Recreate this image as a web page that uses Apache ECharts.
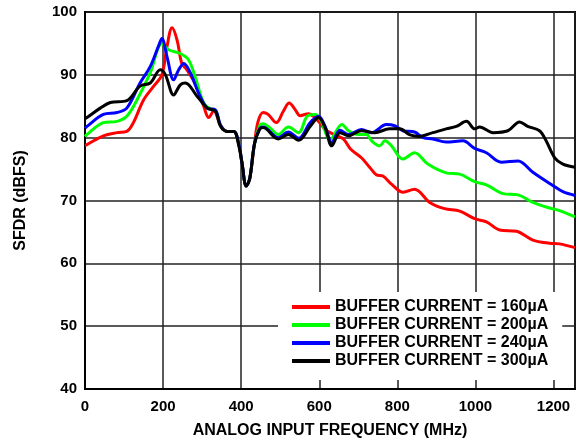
<!DOCTYPE html>
<html>
<head>
<meta charset="utf-8">
<script src="https://cdn.jsdelivr.net/npm/echarts@6/dist/echarts.min.js"></script>
<style>html,body{margin:0;padding:0;background:#fff}#c{width:588px;height:444px}</style>
</head>
<body>
<div id="c"></div>
<script>
// Tick/axis values
const xTicks = [0, 200, 400, 600, 800, 1000, 1200];
const yTicks = [40, 50, 60, 70, 80, 90, 100];
const seriesNames = ['BUFFER CURRENT = 160µA', 'BUFFER CURRENT = 200µA', 'BUFFER CURRENT = 240µA', 'BUFFER CURRENT = 300µA'];

// 160 µA (red)
const freq160 = [0,5,47,82,107,124,150,176,197,210,223,236,248,261,282,304,317,330,347,364,381,394,402,413,422,434,443,456,469,490,508,523,538,551,572,589,601,615,628,646,663,680,708,729,746,763,785,815,844,883,921,960,998,1028,1062,1105,1147,1190,1215,1255];
const sfdr160 = [78.8,78.9,80.3,80.8,81.0,82.4,86.0,88.2,90.0,94.5,97.5,95.5,91.8,90.8,88.6,85.0,83.2,84.3,82.0,81.0,81.0,79.0,76.0,72.3,73.5,79.0,82.5,84.0,83.7,82.4,84.2,85.5,84.5,83.5,83.8,83.2,82.4,81.3,80.8,80.3,79.7,78.2,76.8,75.3,74.1,73.9,72.6,71.3,71.8,69.7,68.7,68.3,67.1,66.6,65.3,65.1,63.7,63.2,63.1,62.5];

// 200 µA (green)
const freq200 = [0,5,47,82,107,133,167,197,214,244,265,282,304,321,334,347,364,381,394,402,413,422,434,447,456,473,495,521,547,569,590,603,628,658,675,700,721,734,755,768,785,814,844,878,925,960,998,1028,1070,1109,1147,1190,1215,1255];
const sfdr200 = [80.2,80.5,82.4,82.6,83.4,86.0,90.3,95.0,94.0,93.4,92.4,89.7,85.5,84.6,84.4,82.0,81.0,81.0,79.0,76.0,72.3,73.5,79.0,81.8,82.2,81.6,80.5,81.7,80.8,83.4,83.7,82.9,79.7,82.1,81.1,80.5,80.5,79.5,78.7,79.5,78.7,76.6,77.6,75.8,74.4,74.2,73.0,72.5,71.1,70.9,69.7,68.8,68.4,67.4];

// 240 µA (blue)
const freq240 = [0,5,47,82,107,141,167,189,197,210,227,240,253,270,291,313,334,347,364,381,394,402,413,422,434,447,456,495,521,547,577,598,615,632,653,675,708,734,772,793,814,844,866,891,925,968,998,1028,1066,1109,1147,1198,1224,1255];
const sfdr240 = [81.5,81.8,83.7,84.0,84.7,88.7,91.3,94.7,95.8,92.9,89.2,90.8,91.8,90.3,87.1,84.7,84.4,82.0,81.0,81.0,79.0,76.0,72.3,73.5,79.0,81.4,81.7,80.0,80.9,79.9,82.4,83.4,81.8,79.2,81.2,80.5,81.3,80.8,82.1,81.9,81.1,80.9,80.0,79.8,79.3,79.5,78.3,77.6,76.1,76.3,74.5,72.4,71.4,70.8];

// 300 µA (black)
const freq300 = [0,5,39,65,107,141,167,193,206,227,244,257,287,313,334,347,364,381,394,402,413,422,434,447,456,495,521,547,577,598,615,632,653,675,708,742,780,806,831,856,891,925,951,977,998,1011,1045,1083,1113,1134,1164,1181,1203,1224,1255];
const sfdr300 = [83.0,83.2,84.7,85.6,85.9,88.2,88.7,90.8,90.0,86.8,88.4,88.7,86.6,84.7,84.2,81.8,81.0,81.0,78.7,76.0,72.3,73.5,79.0,81.3,81.6,79.8,80.5,79.6,81.8,83.2,81.6,78.7,80.8,80.3,81.1,80.8,81.4,81.4,80.5,80.2,80.8,81.4,81.8,82.6,81.4,81.7,80.8,81.1,82.5,81.8,81.1,79.5,76.8,75.8,75.3];

const colors = ['#ff0000', '#00ff00', '#0000ff', '#000000'];
const freqs = [freq160, freq200, freq240, freq300];
const sfdrs = [sfdr160, sfdr200, sfdr240, sfdr300];

const FONT = '"Liberation Sans", Arial, sans-serif';
const chart = echarts.init(document.getElementById('c'), null, {renderer: 'canvas'});

const series = seriesNames.map((name, i) => ({
  name: name,
  type: 'line',
  smooth: 0.35,
  symbol: 'none',
  color: colors[i],
  lineStyle: {width: 3, color: colors[i]},
  data: freqs[i].map((f, j) => [f, sfdrs[i][j]]),
  z: 2 + i
}));

chart.setOption({
  animation: false,
  backgroundColor: '#fff',
  grid: {left: 85, right: 13, top: 12, bottom: 53, show: true, borderColor: '#000', borderWidth: 2, containLabel: false},
  xAxis: {
    type: 'value', min: xTicks[0], max: 1255, interval: 200,
    name: 'ANALOG INPUT FREQUENCY (MHz)', nameLocation: 'middle', nameGap: 34,
    nameTextStyle: {fontFamily: FONT, fontWeight: 'bold', fontSize: 16, color: '#000'},
    axisLine: {show: true, lineStyle: {color: '#000', width: 2}},
    axisTick: {show: false},
    axisLabel: {fontFamily: FONT, fontWeight: 'bold', fontSize: 15, color: '#000', margin: 10, showMaxLabel: false,
      formatter: v => (xTicks.indexOf(v) >= 0 ? String(v) : '')},
    splitLine: {show: true, lineStyle: {color: '#222', width: 1.5}}
  },
  yAxis: {
    type: 'value', min: yTicks[0], max: yTicks[yTicks.length - 1], interval: 10,
    name: 'SFDR (dBFS)', nameLocation: 'middle', nameGap: 56, nameRotate: 90,
    nameTextStyle: {fontFamily: FONT, fontWeight: 'bold', fontSize: 16, color: '#000'},
    axisLine: {show: true, lineStyle: {color: '#000', width: 2}},
    axisTick: {show: false},
    axisLabel: {fontFamily: FONT, fontWeight: 'bold', fontSize: 15, color: '#000', margin: 8},
    splitLine: {show: true, lineStyle: {color: '#222', width: 1.5}}
  },
  legend: {
    orient: 'vertical', left: 278, top: 292,
    backgroundColor: '#fff',
    padding: [6, 14, 10, 14],
    itemGap: 0, itemWidth: 38, itemHeight: 4,
    icon: 'rect',
    textStyle: {fontFamily: FONT, fontWeight: 'bold', fontSize: 16, color: '#000', lineHeight: 18},
    data: seriesNames
  },
  series: series
});
</script>
</body>
</html>
